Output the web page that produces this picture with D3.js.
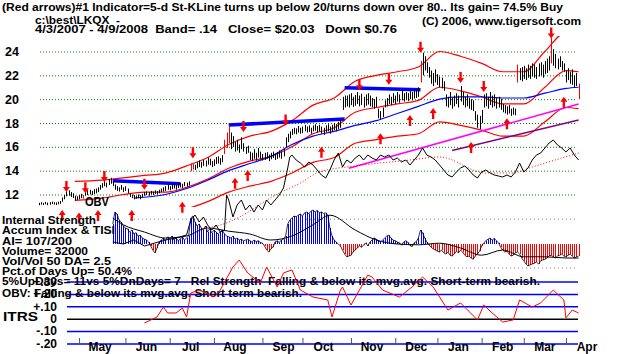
<!DOCTYPE html>
<html>
<head>
<meta charset="utf-8">
<script src="https://cdn.jsdelivr.net/npm/d3@7"></script>
<style>
  body { margin: 0; background: #fff; }
  svg { display: block; }
  text { font-family: "Liberation Sans", Arial, sans-serif; font-weight: bold; fill: #000; white-space: pre; }
</style>
</head>
<body>
<div id="chart"></div>
<script>
// ---- data ----
const monthLabels = ["May", "Jun", "Jul", "Aug", "Sep", "Oct", "Nov", "Dec", "Jan", "Feb", "Mar", "Apr"];
const monthStartDays = [19, 41, 62, 83, 106, 125, 148, 169, 189, 210, 230, 250];   // trading-day index
const priceTicks = [12, 14, 16, 18, 20, 22, 24];
const itrsTicks = [0.3, 0.2, 0.1, 0, -0.1, -0.2];

// daily high / low, trading day 0 = 4/3/2007
const barHigh = [
  11.30, 11.35, 11.30, 11.38, 11.32, 11.36, 11.40, 11.35, 11.34, 11.40, 11.45,
  11.75, 11.95, 12.25, 12.35, 12.20, 12.10,
  11.90, 11.85, 11.95, 12.05, 11.95,
  12.30, 12.35, 12.40, 12.30, 12.45, 12.50, 12.60,
  12.80, 12.95, 13.20, 13.00, 13.30, 13.40, 13.10,
  12.85, 12.70, 12.60, 12.80, 12.60, 12.70, 12.50,
  12.10, 12.00, 11.95, 11.90, 12.00, 11.95, 12.05,
  12.20, 12.25, 12.20, 12.30, 12.25, 12.35, 12.30, 12.40,
  12.50, 12.60, 12.70, 12.80, 12.70, 12.85, 12.90, 12.80, 12.95, 13.00, 12.90, 13.05, 13.00, 13.10,
  14.60, 14.55, 14.50,
  14.70, 14.85, 14.75, 14.90, 14.85, 15.10, 15.00, 14.80, 14.95, 15.15, 15.20, 15.05, 15.30,
  16.60, 17.20, 17.80, 17.20, 16.90,
  16.40, 16.60, 16.20, 16.80, 16.30, 16.00, 16.10,
  15.60, 15.50, 15.80, 15.50, 15.90, 15.60,
  15.40, 15.50, 15.55, 15.35, 15.50, 15.60, 15.45, 15.55, 15.70, 15.60, 15.80,
  16.80, 17.10, 17.30,
  17.50, 17.60, 17.55, 17.75, 17.60, 17.70, 17.85, 17.70, 17.80, 17.60, 17.80, 17.90, 17.75, 17.85,
  17.70, 17.60, 17.80, 17.90, 17.70, 17.85, 18.00, 17.90, 18.10, 18.20,
  20.20, 20.30,
  20.30, 20.40, 20.50, 20.20, 20.35, 20.60, 20.30, 20.45, 20.20, 20.40, 20.50, 20.30, 20.10, 20.00, 20.20,
  19.20, 19.00, 19.30,
  19.90, 20.10, 20.40, 20.20, 20.50, 20.30, 20.60, 20.40, 20.70, 20.50, 20.60, 20.50, 20.70, 20.60, 20.75, 20.80, 21.00,
  23.20, 23.90, 23.60, 23.10, 22.70,
  22.40, 22.20, 22.50, 22.10, 21.90, 21.80, 21.50,
  20.40, 20.20, 20.60, 20.10, 20.30, 20.50, 20.30, 21.10, 20.60, 20.20, 20.40, 20.10, 20.00, 19.90,
  19.00, 18.70, 18.60, 19.10,
  20.40, 20.50, 20.20, 20.60, 20.30, 20.40, 20.10, 20.20, 20.00,
  19.60, 19.50, 19.40, 19.50, 19.20, 19.30, 19.20,
  22.90, 22.60, 22.70, 22.80, 22.60, 22.90, 22.80, 23.00, 22.90, 22.70, 23.00, 23.10, 22.90, 23.20, 23.40, 23.60,
  25.20,
  24.20, 23.80, 23.40, 23.60, 23.20, 23.00,
  22.40, 22.60, 22.30, 22.50, 22.00, 22.20,
  21.30
];
const barLow = [
  11.10, 11.15, 11.12, 11.18, 11.10, 11.14, 11.20, 11.16, 11.12, 11.18, 11.22,
  11.40, 11.60, 11.85, 11.90, 11.80, 11.70,
  11.50, 11.55, 11.60, 11.70, 11.65,
  11.90, 11.95, 12.00, 11.95, 12.05, 12.10, 12.20,
  12.40, 12.55, 12.70, 12.60, 12.80, 12.90, 12.70,
  12.40, 12.30, 12.25, 12.40, 12.20, 12.30, 12.10,
  11.80, 11.70, 11.60, 11.65, 11.70, 11.60, 11.75,
  11.90, 11.95, 11.90, 12.00, 11.95, 12.05, 12.00, 12.10,
  12.20, 12.25, 12.30, 12.40, 12.35, 12.45, 12.50, 12.40, 12.55, 12.60, 12.55, 12.70, 12.65, 12.75,
  13.95, 14.10, 14.05,
  14.20, 14.30, 14.25, 14.40, 14.35, 14.50, 14.45, 14.30, 14.40, 14.55, 14.60, 14.50, 14.70,
  15.40, 15.90, 16.30, 15.80, 16.00,
  15.60, 15.70, 15.50, 15.80, 15.60, 15.40, 15.50,
  14.90, 14.80, 15.00, 14.85, 15.10, 14.95,
  14.85, 14.90, 15.00, 14.80, 14.95, 15.05, 14.90, 15.00, 15.10, 15.00, 15.20,
  16.00, 16.40, 16.70,
  17.00, 17.10, 17.05, 17.20, 17.10, 17.15, 17.30, 17.20, 17.25, 17.10, 17.30, 17.35, 17.20, 17.30,
  17.10, 17.00, 17.20, 17.30, 17.10, 17.25, 17.40, 17.30, 17.50, 17.60,
  19.10, 19.30,
  19.40, 19.30, 19.50, 19.35, 19.45, 19.60, 19.40, 19.50, 19.30, 19.45, 19.55, 19.40, 19.30, 19.20, 19.35,
  18.40, 18.30, 18.50,
  19.30, 19.40, 19.60, 19.50, 19.70, 19.60, 19.80, 19.70, 19.90, 19.80, 19.95, 19.85, 20.00, 19.90, 20.05, 20.10, 20.20,
  21.40, 22.00, 22.40, 22.20, 21.80,
  21.30, 21.10, 21.40, 21.20, 21.00, 20.90, 20.70,
  19.40, 19.30, 19.50, 19.20, 19.40, 19.60, 19.30, 19.80, 19.50, 19.30, 19.40, 19.20, 19.10, 19.00,
  18.20, 17.60, 17.50, 18.00,
  19.30, 19.40, 19.20, 19.50, 19.30, 19.40, 19.20, 19.30, 19.10,
  18.90, 18.80, 18.70, 18.80, 18.60, 18.70, 18.65,
  21.40, 21.60, 21.50, 21.70, 21.60, 21.80, 21.70, 21.90, 21.80, 21.70, 21.90, 22.00, 21.80, 22.10, 22.20, 22.40,
  23.00,
  22.80, 22.60, 22.50, 22.70, 22.40, 22.30,
  21.40, 21.60, 21.30, 21.20, 21.00, 21.10,
  20.00
];
const redBarDays = [21, 72, 73, 88, 89, 90, 181, 227, 243, 256];

// bands (red) and 50-day average (blue)
const bandDays  = [17, 30, 40, 50, 60, 70, 80, 90, 100, 110, 120, 130, 140, 150, 160, 170, 180, 190, 200, 210, 220, 230, 240, 250, 256];
const upperBand = [13.1, 13.2, 13.4, 13.6, 13.8, 14.4, 15.1, 16.2, 16.9, 17.3, 18.2, 19.5, 20.1, 21.5, 22.0, 22.3, 22.7, 24.0, 23.6, 23.0, 22.3, 22.3, 24.0, 25.6, 25.4];
const midBand   = [11.5, 11.7, 12.0, 12.2, 12.2, 12.6, 13.3, 14.2, 14.8, 15.2, 16.0, 17.1, 17.6, 18.9, 19.3, 19.6, 19.9, 21.0, 20.7, 20.2, 19.6, 19.6, 21.0, 22.4, 22.3];
const lowerBand = [9.9, 10.1, 10.3, 10.5, 10.5, 10.8, 11.4, 12.2, 12.7, 13.1, 13.8, 14.7, 15.1, 16.3, 16.6, 16.9, 17.1, 18.1, 17.8, 17.4, 16.9, 16.9, 18.1, 19.3, 19.2];
const ma50Days  = [45, 60, 70, 80, 90, 100, 110, 120, 130, 140, 150, 160, 170, 180, 190, 200, 210, 220, 230, 240, 250, 256];
const ma50      = [11.7, 12.0, 12.5, 13.2, 14.0, 14.6, 15.2, 16.2, 16.9, 17.3, 17.8, 18.2, 18.8, 19.4, 20.0, 20.2, 20.2, 20.1, 20.1, 20.5, 20.9, 21.0];

// thick blue resistance lines: [startDay, startPrice, endDay, endPrice]
const resistLines = [[35, 13.15, 67, 12.9], [90, 17.83, 145, 18.33], [145, 20.95, 181, 20.8]];
const magentaTrend = [[147, 14.2], [256, 19.6]];
const purpleTrend = [[196, 15.7], [256, 18.25]];

// signal arrows: [day, price at arrow tip]
const sellArrows = [[13, 12.2], [22, 12.1], [31, 13.05], [50, 12.4], [73, 15.05], [97, 17.25], [117, 17.8], [152, 20.75], [166, 21.2], [181, 23.9], [200, 21.35], [211, 20.6], [243, 25.1]];
const buyArrows = [[11, 10.7], [19, 10.5], [28, 10.7], [44, 10.7], [68, 11.4], [93, 13.4], [99, 14.05], [134, 16.0], [162, 17.15], [176, 18.67], [187, 19.26], [205, 16.4], [222, 18.4], [249, 20.2]];

// OBV (relative units) and its average
const obvPoints = [[35, 8], [40, 6], [45, 10], [50, 4], [55, 7], [60, 10], [65, 12], [70, 15], [72, 30], [74, 35], [76, 28], [78, 33], [80, 25], [82, 20], [84, 25], [86, 18], [88, 20], [89, 55], [90, 50], [92, 33], [94, 45], [96, 50], [98, 40], [100, 45], [102, 38], [104, 45], [106, 40], [108, 50], [110, 45], [112, 50], [114, 55], [116, 62], [118, 82], [119, 93], [120, 95], [122, 90], [124, 87], [126, 83], [128, 88], [130, 85], [132, 80], [134, 75], [136, 72], [138, 80], [140, 90], [142, 97], [144, 83], [146, 90], [148, 87], [150, 92], [152, 95], [154, 90], [156, 95], [158, 92], [160, 90], [162, 95], [164, 93], [166, 95], [168, 90], [170, 92], [172, 88], [174, 90], [176, 85], [178, 90], [180, 95], [182, 102], [184, 95], [186, 93], [188, 90], [190, 85], [192, 80], [194, 75], [196, 73], [198, 78], [200, 82], [202, 84], [204, 80], [206, 75], [208, 72], [210, 78], [212, 80], [214, 77], [216, 75], [218, 74], [220, 73], [222, 75], [224, 73], [226, 78], [228, 87], [230, 78], [232, 82], [234, 90], [236, 95], [238, 97], [240, 102], [242, 107], [244, 110], [246, 105], [248, 102], [250, 98], [252, 102], [254, 95], [256, 90]];
const obvMaPoints = [[75, 20], [89, 27], [114, 57], [124, 67], [133, 78], [150, 84], [176, 90], [190, 93], [212, 77], [225, 77], [234, 83], [256, 97]];

// Accumulation index histogram, daily from day 35
const aiStartDay = 35;
const aiValues = [
  50, 80, 75, 60, 55, 45, 40, 38, 30, 35,
  25, 28, 20, 22, 15, 12, 10, 5, -5, -15,
  -22, -10, 5, 10, 15, 8, 18, 12, 20, 10,
  15, 8, 12, 18, 10, 15, 20, 65, 70, 55,
  45, 50, 40, 35, 45, 30, 38, 28, 35, 30,
  25, 30, 35, 25, 20, 18, 15, 20, 12, 15,
  10, 12, 8, 10, 12, 8, 5, 10, 6, 8,
  4, 2, -5, -15, -20, -12, -8, 5, 8, 4,
  10, 12, 20, 50, 60, 65, 70, 68, 72, 75,
  70, 78, 80, 76, 82, 85, 80, 84, 78, 80,
  76, 78, 72, 40, 20, 10, 5, 0, -5, -15,
  -25, -32, -30, -28, -20, -15, -10, -5, -8, -3,
  3, -5, 5, 10, 15, 12, 8, 5, 10, 15,
  20, 22, 15, 10, 8, 5, 3, -3, 5, 8,
  4, -4, -6, 3, 6, 15, 35, 28, 15, 5,
  -2, -8, -12, -15, -18, -20, -15, -22, -25, -20,
  -28, -30, -25, -18, -22, -15, -20, -28, -32, -30,
  -35, -38, -30, -25, -18, -5, 3, 8, 12, 15,
  10, 14, 8, 3, -8, -15, -20, -18, -25, -30,
  -28, -22, -20, -25, -35, -42, -50, -55, -52, -50,
  -48, -45, -50, -42, -40, -38, -35, -30, -28, -32,
  -35, -30, -28, -25, -30, -32, -28, -25, -30, -35,
  -32, -30
];
const aiAvgPoints = [[35, 65], [40, 48], [50, 30], [60, 15], [70, 20], [80, 40], [90, 32], [100, 25], [110, 10], [120, 20], [130, 48], [138, 72], [150, 35], [160, 10], [170, 0], [180, -2], [190, 2], [200, -10], [210, -28], [220, -15], [230, -32], [240, -32], [250, -35], [256, -35]];
const aiGuides = [62, -60];

// ITRS relative strength: [day, value]
const itrsPoints = [[50, -0.035], [56, 0.014], [59, 0.094], [61, 0.046], [65, 0.046], [68, 0.086], [70, 0.014], [72, 0.207], [76, 0.231], [83, 0.175], [86, 0.231], [92, 0.417], [95, 0.473], [99, 0.369], [105, 0.288], [108, 0.417], [113, 0.256], [116, 0.369], [120, 0.393], [124, 0.231], [130, 0.175], [137, 0.151], [139, 0.014], [143, 0.231], [144, 0.256], [148, 0.110], [156, 0.352], [158, 0.336], [163, 0.231], [171, 0.175], [177, 0.256], [182, 0.336], [187, 0.256], [194, 0.070], [200, 0.127], [208, -0.010], [211, 0.110], [215, 0.046], [220, -0.027], [225, -0.010], [228, 0.151], [234, 0.094], [238, 0.127], [244, 0.231], [249, 0.151], [250, 0.006], [253, 0.070], [256, 0.046]];

const statsLines = [
  "Internal Strength",
  "Accum Index & TISI",
  "AI= 107/200",
  "Volume= 32000",
  "Vol/Vol 50 DA= 2.5",
  "Pct.of Days Up= 50.4%",
  "5%UpDays= 11vs 5%DnDays= 7   Rel Strength  Falling & below its mvg.avg. Short-term bearish.",
  "OBV: Falling & below its mvg.avg. Short term bearish."
];

// ---- drawing ----
const W = 627, H = 354;
const RED = "#ff0000", BLUE = "#0000ff";

const svg = d3.select("#chart").append("svg").attr("width", W).attr("height", H);

const x = d3.scaleLinear().domain([0, 256]).range([39, 578.6]);
const y = d3.scaleLinear().domain([12, 24]).range([194.5, 51.5]);
const aiY = d3.scaleLinear().domain([0, 100]).range([244, 204]);
const obvY = d3.scaleLinear().domain([0, 100]).range([250, 150]);
const itrsY = d3.scaleLinear().domain([-0.2, 0.3]).range([343.5, 281.5]);

// header text
function label(txt, tx, ty, size, width) {
  const t = svg.append("text").attr("x", tx).attr("y", ty).attr("font-size", size)
    .attr("xml:space", "preserve").text(txt);
  if (width) t.attr("textLength", width).attr("lengthAdjust", "spacingAndGlyphs");
  return t;
}
label("(Red arrows)#1 Indicator=5-d St-KLine turns up below 20/turns down over 80.. Its gain= 74.5% Buy", 2, 11, 11.5, 561);
label("c:\\best\\LKQX  -", 35, 24, 11, 85);
label("4/3/2007 - 4/9/2008  Band= .14   Close= $20.03   Down $0.76", 35, 33, 11.5, 362);
label("(C) 2006, www.tigersoft.com", 422, 25, 11.5, 159);

// price grid + labels
svg.append("g")
  .attr("transform", "translate(40,0)")
  .call(d3.axisLeft(y).tickValues(priceTicks).tickSize(-537).tickPadding(21).tickFormat(d3.format("d")))
  .call(g => g.select(".domain").remove())
  .call(g => g.selectAll("line").attr("stroke", "#008000").attr("stroke-dasharray", "1,2"))
  .call(g => g.selectAll("text").attr("font-size", 12.5).attr("font-family", null).attr("fill", "#000"));

// indicator guide lines
svg.selectAll(".ai-guide").data(aiGuides).join("line")
  .attr("x1", 130).attr("x2", 578)
  .attr("y1", d => aiY(d)).attr("y2", d => aiY(d))
  .attr("stroke", "#808080").attr("stroke-dasharray", "1,3");

// accumulation histogram with its outline
const aiData = aiValues.map((v, i) => ({ day: aiStartDay + i, v }));
svg.selectAll(".ai-bar").data(aiData).join("line")
  .attr("x1", d => Math.round(x(d.day)) + 0.5).attr("x2", d => Math.round(x(d.day)) + 0.5)
  .attr("y1", aiY(0)).attr("y2", d => aiY(d.v))
  .attr("stroke", d => d.v >= 0 ? BLUE : RED).attr("stroke-width", 1);
svg.append("path").datum(aiData)
  .attr("fill", "none").attr("stroke", "#000").attr("stroke-width", 0.8)
  .attr("d", d3.line().x(d => x(d.day)).y(d => aiY(d.v)));

svg.append("path").datum(aiAvgPoints)
  .attr("fill", "none").attr("stroke", "#000").attr("stroke-width", 1)
  .attr("d", d3.line().x(d => x(d[0])).y(d => aiY(d[1])).curve(d3.curveMonotoneX));

// price panel (clipped)
svg.append("clipPath").attr("id", "priceClip")
  .append("rect").attr("x", 38).attr("y", 36).attr("width", 545).attr("height", 171);
const price = svg.append("g").attr("clip-path", "url(#priceClip)");

const bandLine = d3.line().x(d => x(d[0])).y(d => y(d[1])).curve(d3.curveMonotoneX);
[upperBand, midBand, lowerBand].forEach(band => {
  price.append("path").datum(bandDays.map((d, i) => [d, band[i]]))
    .attr("fill", "none").attr("stroke", RED).attr("stroke-width", 1.2).attr("d", bandLine);
});
price.append("path").datum(ma50Days.map((d, i) => [d, ma50[i]]))
  .attr("fill", "none").attr("stroke", BLUE).attr("stroke-width", 1.2).attr("d", bandLine);

price.append("path").datum(magentaTrend)
  .attr("fill", "none").attr("stroke", "#ff00ff").attr("stroke-width", 1.5).attr("d", d3.line().x(d => x(d[0])).y(d => y(d[1])));
price.append("path").datum(purpleTrend)
  .attr("fill", "none").attr("stroke", "#800080").attr("stroke-width", 1.5).attr("d", d3.line().x(d => x(d[0])).y(d => y(d[1])));

price.selectAll(".resist").data(resistLines).join("line")
  .attr("x1", d => x(d[0])).attr("y1", d => y(d[1]))
  .attr("x2", d => x(d[2])).attr("y2", d => y(d[3]))
  .attr("stroke", BLUE).attr("stroke-width", 3.5);

const bars = barHigh.map((h, i) => ({ day: i, hi: h, lo: barLow[i] }));
price.selectAll(".bar").data(bars).join("line")
  .attr("x1", d => Math.round(x(d.day)) + 0.5).attr("x2", d => Math.round(x(d.day)) + 0.5)
  .attr("y1", d => y(d.hi)).attr("y2", d => y(d.lo))
  .attr("stroke", d => redBarDays.includes(d.day) ? RED : "#000").attr("stroke-width", 1);

// OBV and its average
svg.append("path").datum(obvMaPoints)
  .attr("fill", "none").attr("stroke", RED).attr("stroke-width", 1).attr("stroke-dasharray", "1,2")
  .attr("d", d3.line().x(d => x(d[0])).y(d => obvY(d[1])).curve(d3.curveMonotoneX));
svg.append("path").datum(obvPoints)
  .attr("fill", "none").attr("stroke", "#000").attr("stroke-width", 1)
  .attr("d", d3.line().x(d => x(d[0])).y(d => obvY(d[1])));
label("OBV", 85, 206, 12.5, 24);

// arrows
function arrowPath(cx, tip, dir) {
  const L = 11, hw = 3.5, hh = 5, sw = 1.2;
  return `M${cx - sw},${tip - dir * L}L${cx + sw},${tip - dir * L}L${cx + sw},${tip - dir * hh}L${cx + hw},${tip - dir * hh}L${cx},${tip}L${cx - hw},${tip - dir * hh}L${cx - sw},${tip - dir * hh}Z`;
}
svg.selectAll(".sell").data(sellArrows).join("path")
  .attr("d", d => arrowPath(x(d[0]), y(d[1]), 1)).attr("fill", RED);
svg.selectAll(".buy").data(buyArrows).join("path")
  .attr("d", d => arrowPath(x(d[0]), y(d[1]), -1)).attr("fill", RED);

// ITRS panel
const itrsFmt = v => v === 0 ? "0" : (v > 0 ? "+" : "-") + d3.format(".2f")(Math.abs(v)).slice(1);
svg.append("g")
  .attr("transform", "translate(67,0)")
  .call(d3.axisLeft(itrsY).tickValues(itrsTicks).tickSize(-511).tickPadding(10).tickFormat(itrsFmt))
  .call(g => g.select(".domain").remove())
  .call(g => g.selectAll("line").attr("stroke", d => d === 0 ? "#000" : BLUE).attr("stroke-width", 1.5))
  .call(g => g.selectAll("text").attr("font-size", 12).attr("font-family", null).attr("fill", "#000"));
label("ITRS", 3, 321, 12.5, 35);

// stats block on the left
const statsBase = [224, 234, 245, 255, 265, 275, 285, 297];
const statsWidth = [94, 113, 70, 86, 109, 130, 538, 300];
statsLines.forEach((s, i) => label(s, 2, statsBase[i], 11, statsWidth[i]));

svg.append("path").datum(itrsPoints)
  .attr("fill", "none").attr("stroke", RED).attr("stroke-width", 1)
  .attr("d", d3.line().x(d => x(d[0])).y(d => itrsY(d[1])));

// month axis
svg.append("g")
  .attr("transform", "translate(0,338)")
  .call(d3.axisBottom(x).tickValues(monthStartDays).tickSize(6).tickFormat(""))
  .call(g => g.select(".domain").remove())
  .call(g => g.selectAll("line").attr("stroke", "#555"));
svg.selectAll(".month").data(monthLabels).join("text")
  .attr("x", (d, i) => x(monthStartDays[i] + 10)).attr("y", 351)
  .attr("text-anchor", "middle").attr("font-size", 12).text(d => d);
</script>
</body>
</html>
